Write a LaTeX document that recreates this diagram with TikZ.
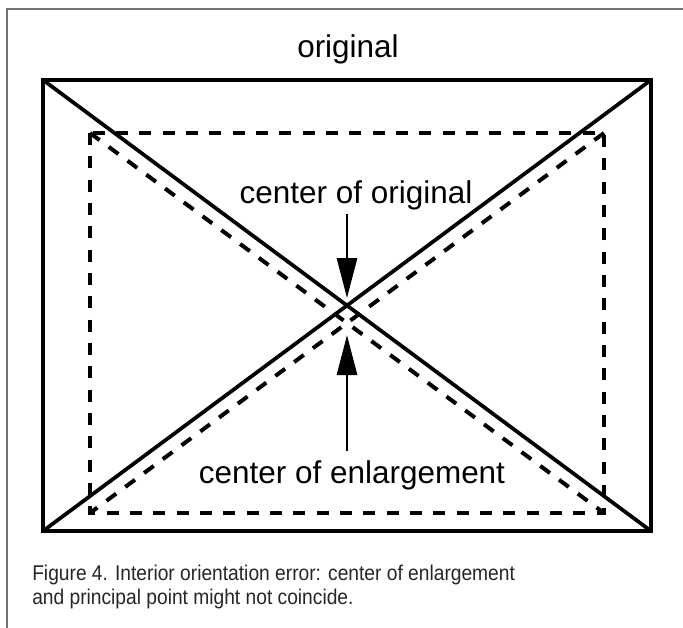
\documentclass[tikz,border=0pt]{standalone}
\usepackage{fontspec}
\setmainfont{Liberation Sans}
\newfontfamily\capfont{Liberation Sans}[FakeStretch=0.9]
\usetikzlibrary{arrows.meta, calc}

\begin{document}
\begin{tikzpicture}[
    x=0.75pt, y=-0.75pt,
    frameline/.style={draw=black!55, line width=1.1pt},
    box/.style={line width=3.6pt, line join=miter},
    diag/.style={line width=2.8pt},
    dashbox/.style={line width=3pt, dash pattern=on 9pt off 8.5pt},
    lbl/.style={font=\fontsize{23.6}{28}\selectfont, inner sep=1pt},
    caption/.style={font=\capfont\fontsize{16}{18}\selectfont, text=black!85, align=left, inner sep=0pt},
    ptr/.style={-{Triangle[length=30pt, width=15pt]}, line width=2.2pt}
]
\useasboundingbox (0,0) rectangle (683,628);
\draw[frameline] (7,628) |- (683,9);

\coordinate (onw) at (43,80);
\coordinate (one) at (651,80);
\coordinate (ose) at (651,531);
\coordinate (osw) at (43,531);
\coordinate (enw) at (90,133);
\coordinate (ene) at (604,133);
\coordinate (ese) at (604,513);
\coordinate (esw) at (90,513);
\coordinate (cO) at (347,305.5);
\coordinate (cE) at (347,323);

\draw[box] (onw) rectangle (ose);
\draw[diag] (onw) -- (ose);
\draw[diag] (one) -- (osw);
\draw[dashbox] (enw) rectangle (ese);
\draw[dashbox] (enw) -- (ese);
\draw[dashbox] (ene) -- (esw);

\node[lbl, anchor=base] (lblorig) at (348,57) {original};
\node[lbl, anchor=base] (lblcorig) at (356,203) {center of original};
\node[lbl, anchor=base] (lblcenl) at (352,483) {center of enlargement};

\draw[ptr, shorten <=2pt, shorten >=5.6pt] (lblcorig.south -| cO) -- (cO);
\draw[ptr, shorten <=6pt, shorten >=9pt] (lblcenl.north -| cE) -- (cE);

\node[caption, anchor=north west] (cap) at (32,565) {Figure 4. Interior orientation error: center of enlargement\\and principal point might not coincide.};
\end{tikzpicture}
\end{document}
